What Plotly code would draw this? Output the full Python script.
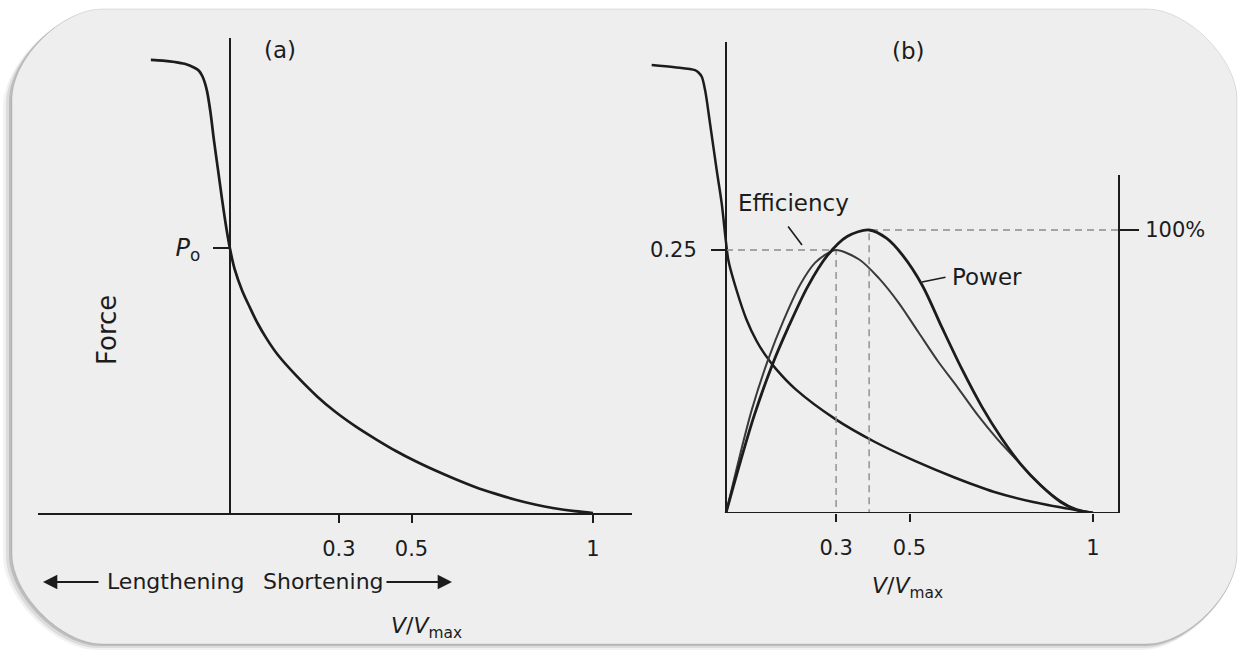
import plotly.graph_objects as go

W, H = 1238, 650
FONT = "DejaVu Sans"
INK = "#1c1c1c"

# ---------------- data ----------------
# Panel (a): force-velocity curve (V/Vmax, force relative to Po)
force_a_v = [-0.218, -0.185, -0.152, -0.125, -0.098, -0.085, -0.076, -0.069, -0.063, -0.054,
             -0.044, -0.033, -0.022, -0.011, 0.0, 0.013, 0.033, 0.055, 0.076, 0.100, 0.131,
             0.180, 0.240, 0.290, 0.348, 0.400, 0.457, 0.510, 0.566, 0.620, 0.675, 0.730,
             0.784, 0.840, 0.893, 0.950, 1.0]
force_a_p = [1.710, 1.707, 1.702, 1.695, 1.680, 1.668, 1.648, 1.622, 1.590, 1.514,
             1.404, 1.295, 1.185, 1.083, 0.997, 0.919, 0.841, 0.775, 0.716, 0.660, 0.598,
             0.522, 0.440, 0.382, 0.325, 0.280, 0.234, 0.196, 0.160, 0.128, 0.098, 0.073,
             0.051, 0.032, 0.018, 0.007, 0.0]

# Panel (b): force-velocity curve
force_b_v = [-0.2025, -0.140, -0.0845, -0.075, -0.066, -0.057, -0.0436, -0.0254, -0.0118, 0.0,
             0.007, 0.029, 0.056, 0.083, 0.105, 0.136, 0.190, 0.298, 0.406, 0.513, 0.621,
             0.729, 0.837, 1.0]
force_b_p = [1.703, 1.695, 1.684, 1.675, 1.659, 1.608, 1.482, 1.304, 1.178, 1.03,
             0.957, 0.846, 0.735, 0.655, 0.605, 0.548, 0.470, 0.357, 0.270, 0.199, 0.136,
             0.081, 0.042, 0.0]

# Panel (b): efficiency (absolute) and power (relative to max = 100%)
eff_v = [0, 0.038, 0.071, 0.114, 0.158, 0.202, 0.243, 0.278, 0.30, 0.363, 0.417, 0.470,
         0.524, 0.578, 0.632, 0.686, 0.740, 0.793, 0.847, 0.901, 0.955, 1.0]
eff = [0, 0.055, 0.099, 0.145, 0.184, 0.217, 0.238, 0.247, 0.25, 0.241, 0.223, 0.200,
       0.172, 0.144, 0.119, 0.093, 0.070, 0.050, 0.030, 0.014, 0.003, 0]

pow_v = [0, 0.040, 0.077, 0.126, 0.169, 0.223, 0.277, 0.330, 0.39, 0.438, 0.481,
         0.535, 0.589, 0.643, 0.697, 0.750, 0.804, 0.858, 0.912, 0.955, 1.0]
pow_rel = [0, 0.185, 0.345, 0.523, 0.654, 0.801, 0.911, 0.977, 1.0, 0.970, 0.911,
           0.804, 0.654, 0.508, 0.376, 0.266, 0.171, 0.097, 0.039, 0.012, 0]

x_tickvals = [0.3, 0.5, 1]
x_ticktext = ["0.3", "0.5", "1"]

# ---------------- layout helpers (pixel -> paper) ----------------
def X(px):
    return px / W

def Y(py):
    return 1 - py / H

# axis geometry in pixels
A_LEFT, A_RIGHT, A_ZERO, A_UNIT = 38, 632, 230, 363
A_TOP, BASE, A_P0 = 38, 513, 248
B_LEFT, B_RIGHT, B_ZERO, B_UNIT = 640, 1118, 726, 367
B_TOP, B_P0, B_RTOP, B_100 = 42, 250, 175, 230

xa_range = [(A_LEFT - A_ZERO) / A_UNIT, (A_RIGHT - A_ZERO) / A_UNIT]
ya_range = [0, (BASE - A_TOP) / (BASE - A_P0)]
xb_range = [(B_LEFT - B_ZERO) / B_UNIT, (B_RIGHT - B_ZERO) / B_UNIT]
yb_range = [0, (BASE - B_TOP) / (BASE - B_P0)]
yeff_range = [0, 0.25 * (BASE - B_TOP) / (BASE - B_P0)]
ypow_range = [0, (BASE - B_RTOP) / (BASE - B_100)]

fig = go.Figure()

curve = dict(shape="spline", smoothing=0.9)
fig.add_trace(go.Scatter(x=force_a_v, y=force_a_p, mode="lines", xaxis="x", yaxis="y",
                         line=dict(color=INK, width=2.7, **curve), hoverinfo="skip"))
fig.add_trace(go.Scatter(x=force_b_v, y=force_b_p, mode="lines", xaxis="x2", yaxis="y2",
                         line=dict(color=INK, width=2.5, **curve), hoverinfo="skip"))

# dashed guide lines at the peaks
i_e = max(range(len(eff)), key=lambda i: eff[i])
i_p = max(range(len(pow_rel)), key=lambda i: pow_rel[i])
dash = dict(color="#8c8c8c", width=1.4, dash="7px,5px")
fig.add_trace(go.Scatter(x=[0, eff_v[i_e], eff_v[i_e]], y=[eff[i_e], eff[i_e], 0], mode="lines",
                         xaxis="x2", yaxis="y4", line=dash, hoverinfo="skip"))
fig.add_trace(go.Scatter(x=[xb_range[1], pow_v[i_p], pow_v[i_p]], y=[pow_rel[i_p], pow_rel[i_p], 0],
                         mode="lines", xaxis="x2", yaxis="y3", line=dash, hoverinfo="skip"))

fig.add_trace(go.Scatter(x=eff_v, y=eff, mode="lines", xaxis="x2", yaxis="y4",
                         line=dict(color="#3a3a3a", width=2.0, **curve), hoverinfo="skip"))
fig.add_trace(go.Scatter(x=pow_v, y=pow_rel, mode="lines", xaxis="x2", yaxis="y3",
                         line=dict(color=INK, width=2.8, **curve), hoverinfo="skip"))

tickfont = dict(family=FONT, size=21, color=INK)
common_x = dict(showgrid=False, ticks="outside", tickvals=x_tickvals, ticktext=x_ticktext,
                ticklen=8, tickwidth=2, tickcolor=INK, tickfont=tickfont,
                zeroline=True, zerolinecolor=INK, zerolinewidth=2, ticklabelstandoff=8,
                fixedrange=True)

fig.update_layout(
    width=W, height=H, margin=dict(l=0, r=0, t=0, b=0),
    paper_bgcolor="white", plot_bgcolor="rgba(0,0,0,0)", showlegend=False,
    xaxis=dict(domain=[X(A_LEFT), X(A_RIGHT)], range=xa_range, anchor="y",
               showline=True, linecolor=INK, linewidth=2, **common_x),
    yaxis=dict(domain=[Y(BASE), Y(A_TOP)], range=ya_range, anchor="free", position=X(A_ZERO),
               showgrid=False, zeroline=False, showline=False, ticks="outside",
               tickvals=[1], ticktext=["<i>P</i><sub>o</sub>"], ticklen=17, tickwidth=2,
               tickcolor=INK, tickfont=dict(family=FONT, size=24, color=INK),
               ticklabelstandoff=8, fixedrange=True),
    xaxis2=dict(domain=[X(B_LEFT), X(B_RIGHT)], range=xb_range, anchor="y2",
                showline=False, **common_x),
    yaxis2=dict(domain=[Y(BASE), Y(B_TOP)], range=yb_range, anchor="x2",
                showgrid=False, zeroline=False, showline=False, showticklabels=False,
                ticks="", fixedrange=True),
    yaxis3=dict(domain=[Y(BASE), Y(B_RTOP)], range=ypow_range, anchor="x2", side="right",
                showgrid=False, zeroline=False, showline=True, linecolor=INK, linewidth=2,
                ticks="outside", tickvals=[1], ticktext=["100%"], ticklen=19, tickwidth=2,
                tickcolor=INK, tickfont=tickfont, ticklabelstandoff=2, fixedrange=True),
    yaxis4=dict(overlaying="y2", range=yeff_range, anchor="free", position=X(B_ZERO), side="left",
                showgrid=False, zeroline=False, showline=False, ticks="outside",
                tickvals=[0.25], ticktext=["0.25"], ticklen=15, tickwidth=2, tickcolor=INK,
                tickfont=tickfont, ticklabelstandoff=10, fixedrange=True),
)

# ---------------- frame (rounded card with shadow) ----------------
def rrect(x0, y0, x1, y1, r):
    k = 0.4477 * r
    pts = [
        f"M {X(x0 + r)},{Y(y0)}", f"L {X(x1 - r)},{Y(y0)}",
        f"C {X(x1 - r + k)},{Y(y0)} {X(x1)},{Y(y0 + r - k)} {X(x1)},{Y(y0 + r)}",
        f"L {X(x1)},{Y(y1 - r)}",
        f"C {X(x1)},{Y(y1 - r + k)} {X(x1 - r + k)},{Y(y1)} {X(x1 - r)},{Y(y1)}",
        f"L {X(x0 + r)},{Y(y1)}",
        f"C {X(x0 + r - k)},{Y(y1)} {X(x0)},{Y(y1 - r + k)} {X(x0)},{Y(y1 - r)}",
        f"L {X(x0)},{Y(y0 + r)}",
        f"C {X(x0)},{Y(y0 + r - k)} {X(x0 + r - k)},{Y(y0)} {X(x0 + r)},{Y(y0)}", "Z",
    ]
    return " ".join(pts)

shapes = [
    dict(type="path", path=rrect(3, 13, 1236, 650, 94), xref="paper", yref="paper",
         fillcolor="rgba(0,0,0,0.05)", line=dict(width=0), layer="below"),
    dict(type="path", path=rrect(6, 12, 1236, 648, 92), xref="paper", yref="paper",
         fillcolor="rgba(0,0,0,0.09)", line=dict(width=0), layer="below"),
    dict(type="path", path=rrect(9, 10, 1237, 646, 91), xref="paper", yref="paper",
         fillcolor="rgba(0,0,0,0.14)", line=dict(width=0), layer="below"),
    dict(type="path", path=rrect(12, 9, 1237, 644, 90), xref="paper", yref="paper",
         fillcolor="#eeeeee", line=dict(color="rgba(0,0,0,0.10)", width=1), layer="below"),
    # baseline of panel (b) from V = 0 to the right axis
    dict(type="line", xref="x2", yref="y2", x0=0, x1=xb_range[1], y0=0, y1=0,
         line=dict(color=INK, width=2), layer="above"),
]
fig.update_layout(shapes=shapes)

# ---------------- text ----------------
def txt(t, px, py, size=22, **kw):
    return dict(text=t, x=X(px), y=Y(py), xref="paper", yref="paper", showarrow=False,
                xanchor="center", yanchor="middle",
                font=dict(family=FONT, size=size, color=INK), **kw)

def arrow(hx, hy, tx, ty, head=0, width=1.6):
    return dict(text="", x=X(hx), y=Y(hy), xref="paper", yref="paper", ax=tx - hx, ay=ty - hy,
                showarrow=True, arrowhead=head, arrowsize=1.3, arrowwidth=width,
                arrowcolor=INK, standoff=0, startstandoff=0)

annotations = [
    txt("(a)", 280, 50, 23),
    txt("(b)", 908, 51, 23),
    txt("Force", 107, 330, 26, textangle=-90),
    txt("Efficiency", 793, 203, 23),
    txt("Power", 987, 277, 23),
    txt("Lengthening", 175, 581, 22),
    txt("Shortening", 323, 581, 22),
    txt("<i>V</i>/<i>V</i><sub>max</sub>", 426, 627, 22),
    txt("<i>V</i>/<i>V</i><sub>max</sub>", 907, 587, 22),
    arrow(43, 582, 100, 582, head=2, width=2.2),
    arrow(452, 582, 385, 582, head=2, width=2.2),
    arrow(802, 245, 787, 225, head=0, width=1.6),
    arrow(922, 282, 947, 277, head=0, width=1.6),
]
fig.update_layout(annotations=annotations)

fig.write_html("out.html")
